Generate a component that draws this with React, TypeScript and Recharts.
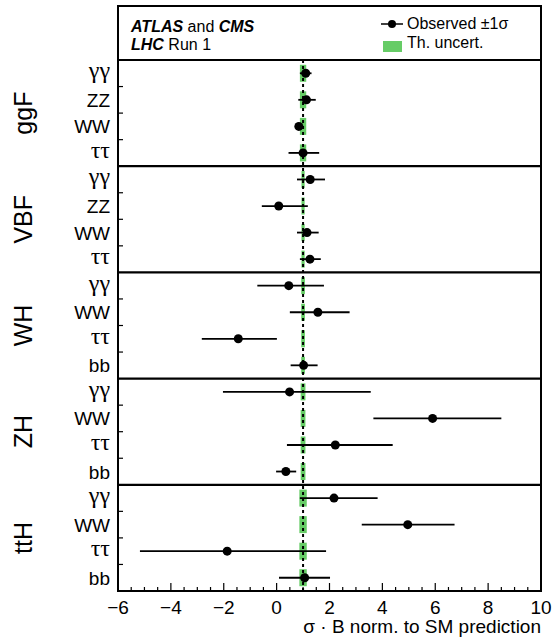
import React from 'react';
import {
  ScatterChart, Scatter, XAxis, YAxis, ErrorBar,
  ReferenceLine, ReferenceArea
} from 'recharts';

const productionModes = ['ggF', 'VBF', 'WH', 'ZH', 'ttH'];
const decayChannels = [
  ['γγ', 'ZZ', 'WW', 'ττ'],
  ['γγ', 'ZZ', 'WW', 'ττ'],
  ['γγ', 'WW', 'ττ', 'bb'],
  ['γγ', 'WW', 'ττ', 'bb'],
  ['γγ', 'WW', 'ττ', 'bb'],
];
// best fit value of sigma x B normalised to SM
const observed = [
  [1.10, 1.13, 0.84, 1.0],
  [1.27, 0.08, 1.15, 1.26],
  [0.46, 1.56, -1.45, 1.02],
  [0.49, 5.9, 2.22, 0.35],
  [2.17, 4.96, -1.87, 1.06],
];
const errDown = [
  [0.22, 0.31, 0.15, 0.55],
  [0.5, 0.64, 0.38, 0.38],
  [1.19, 1.06, 1.38, 0.49],
  [2.52, 2.24, 1.83, 0.37],
  [1.29, 1.74, 3.3, 0.97],
];
const errUp = [
  [0.22, 0.35, 0.15, 0.61],
  [0.56, 1.1, 0.44, 0.41],
  [1.33, 1.2, 1.46, 0.53],
  [3.07, 2.6, 2.17, 0.39],
  [1.65, 1.77, 3.74, 0.96],
];
// theory uncertainty (half width) per production mode
const thUncert = [0.12, 0.06, 0.07, 0.09, 0.14];

const xTicks: number[] = [];
for (let v = -6; v <= 10; v += 0.5) xTicks.push(v);
const yTicks: number[] = [];
for (let v = 0; v <= 19; v += 0.5) yTicks.push(v);

const rows = productionModes.flatMap((mode, i) =>
  decayChannels[i].map((ch, j) => ({
    row: i * 4 + j,
    label: ch,
    x: observed[i][j],
    err: [errDown[i][j], errUp[i][j]],
    th: thUncert[i],
  }))
);

const FONT = '"Liberation Sans", Arial, Helvetica, sans-serif';
const SERIF = '"Liberation Serif", "Times New Roman", serif';

const XTick = (props: any) => {
  const { x, y, payload } = props;
  const v = payload.value;
  const major = Math.abs(v % 2) < 1e-6;
  return (
    <g>
      <line x1={x} x2={x} y1={y} y2={y - (major ? 8 : 4)} stroke="#000" strokeWidth={1.2} />
      {major && (
        <text x={x} y={y + 23} textAnchor="middle" fontSize={19} fontFamily={FONT} fill="#000">
          {v < 0 ? '\u2212' + Math.abs(v) : String(v)}
        </text>
      )}
    </g>
  );
};

const YTick = (props: any) => {
  const { x, y, payload } = props;
  const v = payload.value;
  if (Number.isInteger(v)) {
    const lab = rows[v].label;
    const greek = lab === 'γγ' || lab === 'ττ';
    return (
      <text x={x - 8} y={greek ? y + 5 : y + 7} textAnchor="end" fontSize={greek ? 24 : 19}
        fontFamily={greek ? SERIF : FONT} fill="#000">
        {lab}
      </text>
    );
  }
  if ((v + 0.5) % 4 === 0) return <g />;
  return <line x1={x} x2={x + 5} y1={y} y2={y} stroke="#000" strokeWidth={1.2} />;
};

const Dot = (props: any) => <circle cx={props.cx} cy={props.cy} r={4.5} fill="#000" />;

export default function App() {
  return (
    <div style={{ position: 'absolute', left: 0, top: 0, width: 554, height: 643, background: '#fff' }}>
      <ScatterChart width={554} height={643} margin={{ top: 60, right: 13, bottom: 22, left: 0 }}>
        <XAxis type="number" dataKey="x" domain={[-6, 10]} ticks={xTicks} interval={0}
          axisLine={false} tickLine={false} tickSize={0} tickMargin={0} height={30} tick={<XTick />} />
        <YAxis type="number" dataKey="row" domain={[-0.5, 19.5]} reversed ticks={yTicks} interval={0}
          axisLine={false} tickLine={false} tickSize={0} tickMargin={0} width={118} tick={<YTick />} />
        {rows.map((r) => (
          <ReferenceArea key={'th' + r.row} x1={1 - r.th} x2={1 + r.th} y1={r.row - 0.32} y2={r.row + 0.32}
            fill="#66cc66" fillOpacity={1} stroke="none" />
        ))}
        <ReferenceLine x={1} stroke="#000" strokeWidth={2} strokeDasharray="3 3" />
        {[3.5, 7.5, 11.5, 15.5].map((b) => (
          <ReferenceLine key={b} y={b} stroke="#000" strokeWidth={2.2} />
        ))}
        <Scatter data={rows} shape={<Dot />} isAnimationActive={false}>
          <ErrorBar dataKey="err" direction="x" width={0} stroke="#000" strokeWidth={1.8} isAnimationActive={false} />
        </Scatter>
      </ScatterChart>
      <svg width={554} height={643} style={{ position: 'absolute', left: 0, top: 0, pointerEvents: 'none' }}>
        <rect x={118} y={6} width={423} height={585} fill="none" stroke="#000" strokeWidth={2} />
        <line x1={118} x2={541} y1={60} y2={60} stroke="#000" strokeWidth={2} />
        <text x={131} y={32} fontSize={16} fontFamily={FONT} fill="#000">
          <tspan fontWeight="bold" fontStyle="italic">ATLAS</tspan>
          <tspan> and </tspan>
          <tspan fontWeight="bold" fontStyle="italic">CMS</tspan>
        </text>
        <text x={131} y={50} fontSize={16} fontFamily={FONT} fill="#000">
          <tspan fontWeight="bold" fontStyle="italic">LHC</tspan>
          <tspan> Run 1</tspan>
        </text>
        <line x1={381} x2={403} y1={24} y2={24} stroke="#000" strokeWidth={1.5} />
        <circle cx={392} cy={24} r={4} fill="#000" />
        <text x={407} y={29} fontSize={16} fontFamily={FONT} fill="#000">Observed ±1σ</text>
        <rect x={383} y={41} width={19} height={11} fill="#66cc66" />
        <text x={407} y={48} fontSize={16} fontFamily={FONT} fill="#000">Th. uncert.</text>
        {productionModes.map((m, i) => {
          const cy = 60 + (i * 4 + 2) * (531 / 20);
          return (
            <text key={m} x={32} y={cy} transform={`rotate(-90 32 ${cy})`} textAnchor="middle"
              fontSize={25} fontFamily={FONT} fill="#000">{m}</text>
          );
        })}
        <text x={541} y={633} textAnchor="end" fontSize={19} fontFamily={FONT} fill="#000">
          σ · B norm. to SM prediction
        </text>
      </svg>
    </div>
  );
}
